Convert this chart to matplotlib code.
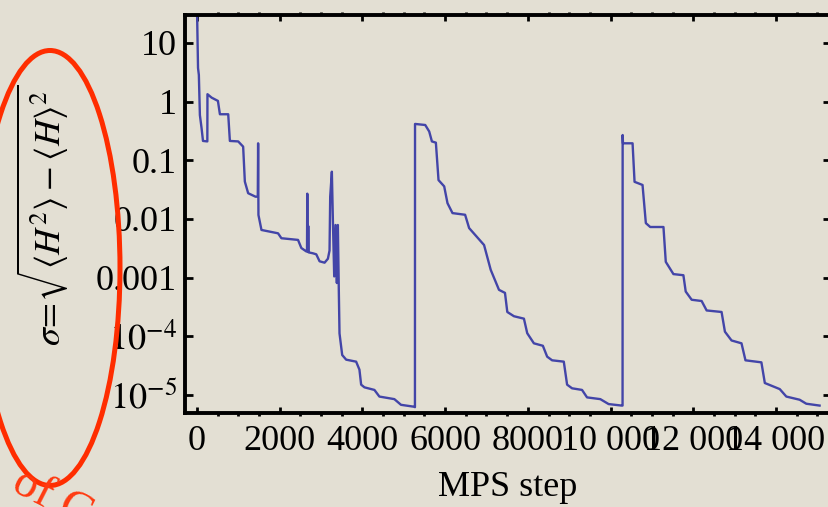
import matplotlib
matplotlib.use('Agg')
import matplotlib.pyplot as plt
from matplotlib.patches import Ellipse
from matplotlib.ticker import FixedLocator, MultipleLocator, NullLocator

plt.rcParams['font.family'] = ['Liberation Serif', 'DejaVu Serif']
plt.rcParams['mathtext.fontset'] = 'stix'

# energy variance vs MPS step
steps = [0, 25, 45, 70, 110, 145, 250, 253, 354, 506, 554, 755, 795, 996, 1116,
         1157, 1237, 1414, 1470, 1478, 1486, 1559, 1960, 2041, 2443, 2523, 2643,
         2660, 2667, 2675, 2685, 2690, 2697, 2804, 2884, 2964, 3085, 3165, 3205,
         3221, 3261, 3285, 3318, 3350, 3382, 3406, 3430, 3446, 3511, 3607, 3848,
         3928, 3969, 4049, 4290, 4410, 4772, 4933, 5254, 5270, 5272, 5519, 5615,
         5680, 5776, 5840, 5977, 6057, 6178, 6483, 6580, 6941, 7102, 7302, 7447,
         7503, 7664, 7905, 7985, 8146, 8363, 8467, 8587, 8869, 8949, 9069, 9310,
         9431, 9752, 9953, 10270, 10290, 10292, 10300, 10532, 10580, 10773, 10853,
         10959, 11279, 11335, 11520, 11761, 11817, 11961, 12202, 12323, 12684,
         12765, 12925, 13166, 13262, 13647, 13730, 14091, 14250, 14572, 14732, 15054]
sigma = [40, 3.75, 2.85, 0.59, 0.356, 0.214, 0.21, 1.34, 1.17, 1.03, 0.61, 0.61,
         0.214, 0.21, 0.171, 0.0434, 0.0275, 0.024, 0.024, 0.195, 0.0117, 0.0065,
         0.0057, 0.0047, 0.0044, 0.0032, 0.0028, 0.0028, 0.027, 0.0028, 0.0028,
         0.0076, 0.0027, 0.0026, 0.0025, 0.0019, 0.0018, 0.0021, 0.0029, 0.024,
         0.064, 0.01, 0.00105, 0.0079, 0.00081, 0.0079, 0.00055, 1.12e-4, 4.8e-5,
         4.0e-5, 3.7e-5, 2.7e-5, 1.5e-5, 1.35e-5, 1.22e-5, 9.4e-6, 8.5e-6, 6.8e-6,
         6.3e-6, 6.2e-6, 0.417, 0.40, 0.31, 0.21, 0.20, 0.046, 0.036, 0.0186,
         0.0126, 0.0118, 0.0070, 0.0036, 0.00136, 6.2e-4, 5.5e-4, 2.6e-4, 2.2e-4,
         2.0e-4, 1.13e-4, 7.6e-5, 6.9e-5, 4.5e-5, 3.9e-5, 3.7e-5, 1.5e-5, 1.3e-5,
         1.22e-5, 9.1e-6, 8.5e-6, 7.0e-6, 6.6e-6, 6.6e-6, 0.27, 0.195, 0.195,
         0.043, 0.038, 0.0085, 0.0073, 0.0073, 0.00186, 0.00115, 0.0011, 5.8e-4,
         4.2e-4, 4.0e-4, 2.76e-4, 2.6e-4, 1.2e-4, 8.5e-5, 7.6e-5, 3.9e-5, 3.6e-5,
         1.6e-5, 1.26e-5, 9.4e-6, 8.3e-6, 7.1e-6, 6.6e-6]

xticks = [0, 2000, 4000, 6000, 8000, 10000, 12000, 14000]
xtick_labels = ['0', '2000', '4000', '6000', '8000', '10 000', '12 000', '14 000']
yticks = [10, 1, 0.1, 0.01, 0.001, 1e-4, 1e-5]
ytick_labels = ['10', '1', '0.1', '0.01', '0.001', r'$10^{-4}$', r'$10^{-5}$']

bg = '#e3dfd3'
fig = plt.figure(figsize=(8.29, 5.07), dpi=100, facecolor=bg)
ax = fig.add_axes([185/829, 94/507, 646/829, 398/507])
ax.set_facecolor('none')

ax.plot(steps, sigma, color='#4345a8', lw=1.7)
ax.set_yscale('log')
ax.set_xlim(-290, 15330)
ax.set_ylim(10**-5.307, 10**1.477)

ax.set_xticks(xticks)
ax.set_xticklabels(xtick_labels)
ax.xaxis.set_minor_locator(MultipleLocator(500))
ax.yaxis.set_major_locator(FixedLocator(yticks))
ax.set_yticklabels(ytick_labels)
ax.yaxis.set_minor_locator(NullLocator())

for s in ax.spines.values():
    s.set_linewidth(2.8)
ax.tick_params(direction='in', top=True, right=True, labelsize=26, width=2)
ax.tick_params(axis='x', which='major', length=4.5, pad=9)
ax.tick_params(axis='x', which='minor', length=2.5, width=2, top=True)
ax.tick_params(axis='y', which='major', length=6, pad=6)

ax.set_xlabel('MPS step', fontsize=26, labelpad=9)

fig.text(43/829, 1 - 215/507,
         r'$\sigma\!=\!\sqrt{\langle H^2\rangle - \langle H\rangle^2}$',
         rotation=90, ha='center', va='center', fontsize=26)

# red annotation from the slide
fig.patches.append(Ellipse((50/829, 1 - 268/507), 140/829, 435/507,
                           transform=fig.transFigure, fill=False,
                           edgecolor='#ff2d00', lw=3.6))
fig.text(10/829, 1 - 490/507, 'of G', color='#ff3a10', fontsize=34,
         rotation=-27, rotation_mode='anchor', ha='left', va='baseline')

fig.savefig('out.png', dpi=100, facecolor=fig.get_facecolor())
